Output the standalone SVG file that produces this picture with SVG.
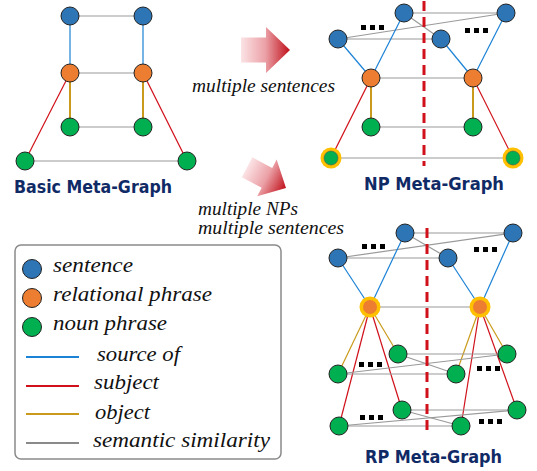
<svg xmlns="http://www.w3.org/2000/svg" width="537" height="471" viewBox="0 0 537 471">
<defs>
<style>
.n{stroke:#222;stroke-width:1}
.bl{fill:#2E75B6}.or{fill:#ED7D31}.gr{fill:#00B050}
.ring{fill:#FFC000}
.e{fill:none;stroke-width:1.2}
.sb{stroke:#1B82D6}.sr{stroke:#D0101A}.sg{stroke:#C99A1B;stroke-width:2}.ss{stroke:#9A9A9A}
.dash{stroke:#D0101A;stroke-width:3;stroke-dasharray:10 6}
.title{font-family:"DejaVu Sans",sans-serif;font-weight:bold;font-size:18px;fill:#102A66}
.it{font-family:"Liberation Serif",serif;font-style:italic;fill:#111}
.dot{fill:#000}
</style>
<linearGradient id="ag" x1="0" y1="0" x2="1" y2="0">
<stop offset="0" stop-color="#FBE3E5"/>
<stop offset="0.5" stop-color="#EBA0A6"/>
<stop offset="1" stop-color="#C0101A"/>
</linearGradient>
<path id="arrow" d="M-49,-12.5 L-24,-12.5 L-24,-23 L0,0 L-24,23 L-24,12.5 L-49,12.5 Z" fill="url(#ag)"/>
</defs>
<rect width="537" height="471" fill="#fff"/>

<g id="connectors">
<line class="e ss" x1="70" y1="16" x2="143" y2="16"/>
<line class="e sb" x1="70" y1="16" x2="70" y2="73"/>
<line class="e sb" x1="143" y1="16" x2="143" y2="73"/>
<line class="e ss" x1="70" y1="73" x2="143" y2="73"/>
<line class="e sg" x1="70" y1="73" x2="70" y2="127"/>
<line class="e sg" x1="143" y1="73" x2="143" y2="127"/>
<line class="e ss" x1="70" y1="127" x2="143" y2="127"/>
<line class="e sr" x1="70" y1="73" x2="25" y2="161"/>
<line class="e sr" x1="143" y1="73" x2="187" y2="161"/>
<line class="e ss" x1="25" y1="161" x2="187" y2="161"/>
<line class="e ss" x1="404" y1="13" x2="506" y2="13"/>
<line class="e ss" x1="338" y1="39" x2="506" y2="13"/>
<line class="e ss" x1="338" y1="39" x2="441" y2="39"/>
<line class="e ss" x1="404" y1="13" x2="441" y2="39"/>
<line class="e sb" x1="338" y1="39" x2="371" y2="78"/>
<line class="e sb" x1="404" y1="13" x2="371" y2="78"/>
<line class="e sb" x1="441" y1="39" x2="473" y2="78"/>
<line class="e sb" x1="506" y1="13" x2="473" y2="78"/>
<line class="e ss" x1="371" y1="78" x2="473" y2="78"/>
<line class="e sg" x1="371" y1="78" x2="371" y2="127"/>
<line class="e sg" x1="473" y1="78" x2="473" y2="127"/>
<line class="e ss" x1="371" y1="127" x2="473" y2="127"/>
<line class="e sr" x1="371" y1="78" x2="331" y2="158"/>
<line class="e sr" x1="473" y1="78" x2="513" y2="158"/>
<line class="e ss" x1="331" y1="158" x2="513" y2="158"/>
<line class="dash" x1="424" y1="1" x2="424" y2="166"/>
<line class="e ss" x1="405" y1="233" x2="513" y2="233"/>
<line class="e ss" x1="338" y1="258" x2="513" y2="233"/>
<line class="e ss" x1="338" y1="258" x2="448" y2="258"/>
<line class="e ss" x1="405" y1="233" x2="448" y2="258"/>
<line class="e sb" x1="338" y1="258" x2="370" y2="307"/>
<line class="e sb" x1="405" y1="233" x2="370" y2="307"/>
<line class="e sb" x1="448" y1="258" x2="480" y2="307"/>
<line class="e sb" x1="513" y1="233" x2="480" y2="307"/>
<line class="e ss" x1="370" y1="307" x2="480" y2="307"/>
<line class="e sg" style="stroke-width:1.2" x1="370" y1="307" x2="398" y2="354"/>
<line class="e sg" style="stroke-width:1.2" x1="370" y1="307" x2="338" y2="374"/>
<line class="e sr" x1="370" y1="307" x2="402" y2="410"/>
<line class="e sr" x1="370" y1="307" x2="339" y2="426"/>
<line class="e sg" style="stroke-width:1.2" x1="480" y1="307" x2="507" y2="354"/>
<line class="e sg" style="stroke-width:1.2" x1="480" y1="307" x2="456" y2="374"/>
<line class="e sr" x1="480" y1="307" x2="517" y2="410"/>
<line class="e sr" x1="480" y1="307" x2="461" y2="426"/>
<line class="e ss" x1="398" y1="354" x2="507" y2="354"/>
<line class="e ss" x1="338" y1="374" x2="507" y2="354"/>
<line class="e ss" x1="338" y1="374" x2="456" y2="374"/>
<line class="e ss" x1="398" y1="354" x2="456" y2="374"/>
<line class="e ss" x1="402" y1="410" x2="517" y2="410"/>
<line class="e ss" x1="339" y1="426" x2="517" y2="410"/>
<line class="e ss" x1="339" y1="426" x2="461" y2="426"/>
<line class="e ss" x1="402" y1="410" x2="461" y2="426"/>
<line class="dash" x1="427" y1="228" x2="427" y2="430"/>
</g>

<g id="basic-graph">
<circle class="n bl" cx="70" cy="16" r="9"/>
<circle class="n bl" cx="143" cy="16" r="9"/>
<circle class="n or" cx="70" cy="73" r="9"/>
<circle class="n or" cx="143" cy="73" r="9"/>
<circle class="n gr" cx="70" cy="127" r="9"/>
<circle class="n gr" cx="143" cy="127" r="9"/>
<circle class="n gr" cx="25" cy="161" r="9"/>
<circle class="n gr" cx="187" cy="161" r="9"/>
<text class="title" x="14" y="193" textLength="158" lengthAdjust="spacingAndGlyphs">Basic Meta-Graph</text>
</g>

<g id="np-graph">
<circle class="n bl" cx="404" cy="13" r="9"/>
<circle class="n bl" cx="506" cy="13" r="9"/>
<circle class="n bl" cx="338" cy="39" r="9"/>
<circle class="n bl" cx="441" cy="39" r="9"/>
<circle class="n or" cx="371" cy="78" r="9"/>
<circle class="n or" cx="473" cy="78" r="9"/>
<circle class="n gr" cx="371" cy="127" r="9"/>
<circle class="n gr" cx="473" cy="127" r="9"/>
<circle class="ring" cx="331" cy="158" r="10.5"/>
<circle class="gr" cx="331" cy="158" r="7" stroke="#555" stroke-width="0.6"/>
<circle class="ring" cx="513" cy="158" r="10.5"/>
<circle class="gr" cx="513" cy="158" r="7" stroke="#555" stroke-width="0.6"/>
<rect class="dot" x="361" y="25" width="5" height="5"/><rect class="dot" x="370" y="25" width="5" height="5"/><rect class="dot" x="379" y="25" width="5" height="5"/>
<rect class="dot" x="465" y="28" width="5" height="5"/><rect class="dot" x="474" y="28" width="5" height="5"/><rect class="dot" x="483" y="28" width="5" height="5"/>
<text class="title" x="364" y="190" textLength="140" lengthAdjust="spacingAndGlyphs">NP Meta-Graph</text>
</g>

<g id="rp-graph">
<circle class="n bl" cx="405" cy="233" r="9"/>
<circle class="n bl" cx="513" cy="233" r="9"/>
<circle class="n bl" cx="338" cy="258" r="9"/>
<circle class="n bl" cx="448" cy="258" r="9"/>
<circle class="ring" cx="370" cy="307" r="10.5"/>
<circle class="or" cx="370" cy="307" r="7"/>
<circle class="ring" cx="480" cy="307" r="10.5"/>
<circle class="or" cx="480" cy="307" r="7"/>
<circle class="n gr" cx="398" cy="354" r="9"/>
<circle class="n gr" cx="507" cy="354" r="9"/>
<circle class="n gr" cx="338" cy="374" r="9"/>
<circle class="n gr" cx="456" cy="374" r="9"/>
<circle class="n gr" cx="402" cy="410" r="9"/>
<circle class="n gr" cx="517" cy="410" r="9"/>
<circle class="n gr" cx="339" cy="426" r="9"/>
<circle class="n gr" cx="461" cy="426" r="9"/>
<rect class="dot" x="362" y="244" width="5" height="5"/><rect class="dot" x="371" y="244" width="5" height="5"/><rect class="dot" x="380" y="244" width="5" height="5"/>
<rect class="dot" x="474" y="247" width="5" height="5"/><rect class="dot" x="483" y="247" width="5" height="5"/><rect class="dot" x="492" y="247" width="5" height="5"/>
<rect class="dot" x="359" y="362" width="5" height="5"/><rect class="dot" x="368" y="362" width="5" height="5"/><rect class="dot" x="377" y="362" width="5" height="5"/>
<rect class="dot" x="477" y="366" width="5" height="5"/><rect class="dot" x="486" y="366" width="5" height="5"/><rect class="dot" x="495" y="366" width="5" height="5"/>
<rect class="dot" x="360" y="415" width="5" height="5"/><rect class="dot" x="369" y="415" width="5" height="5"/><rect class="dot" x="378" y="415" width="5" height="5"/>
<rect class="dot" x="479" y="419" width="5" height="5"/><rect class="dot" x="488" y="419" width="5" height="5"/><rect class="dot" x="497" y="419" width="5" height="5"/>
<text class="title" x="365" y="463" textLength="137" lengthAdjust="spacingAndGlyphs">RP Meta-Graph</text>
</g>

<g id="arrow-1">
<use href="#arrow" transform="translate(290,50)"/>
<text class="it" x="192" y="92" font-size="18" textLength="143" lengthAdjust="spacingAndGlyphs">multiple sentences</text>
</g>

<g id="arrow-2">
<use href="#arrow" transform="translate(286,188) rotate(28) scale(0.9)"/>
<text class="it" x="198" y="215" font-size="18" textLength="100" lengthAdjust="spacingAndGlyphs">multiple NPs</text>
<text class="it" x="198" y="234" font-size="18" textLength="146" lengthAdjust="spacingAndGlyphs">multiple sentences</text>
</g>

<g id="legend">
<rect x="15" y="245" width="266" height="214" rx="6" fill="#fff" stroke="#8A8A8A" stroke-width="1.5"/>
<circle class="n bl" cx="32" cy="269" r="9.5"/>
<text class="it" x="53" y="272" font-size="21" textLength="80" lengthAdjust="spacingAndGlyphs">sentence</text>
<circle class="n or" cx="32" cy="298" r="9.5"/>
<text class="it" x="53" y="301" font-size="21" textLength="159" lengthAdjust="spacingAndGlyphs">relational phrase</text>
<circle class="n gr" cx="32" cy="327" r="9.5"/>
<text class="it" x="53" y="330" font-size="21" textLength="114" lengthAdjust="spacingAndGlyphs">noun phrase</text>
<line x1="26" y1="357" x2="79" y2="357" stroke="#1B82D6" stroke-width="2"/>
<text class="it" x="97" y="361" font-size="21" textLength="83" lengthAdjust="spacingAndGlyphs">source of</text>
<line x1="26" y1="386" x2="79" y2="386" stroke="#D0101A" stroke-width="2"/>
<text class="it" x="94" y="389" font-size="21" textLength="65" lengthAdjust="spacingAndGlyphs">subject</text>
<line x1="26" y1="414" x2="79" y2="414" stroke="#C99A1B" stroke-width="2"/>
<text class="it" x="95" y="419" font-size="21" textLength="55" lengthAdjust="spacingAndGlyphs">object</text>
<line x1="26" y1="443" x2="79" y2="443" stroke="#8A8A8A" stroke-width="2"/>
<text class="it" x="93" y="447" font-size="21" textLength="177" lengthAdjust="spacingAndGlyphs">semantic similarity</text>
</g>
</svg>
